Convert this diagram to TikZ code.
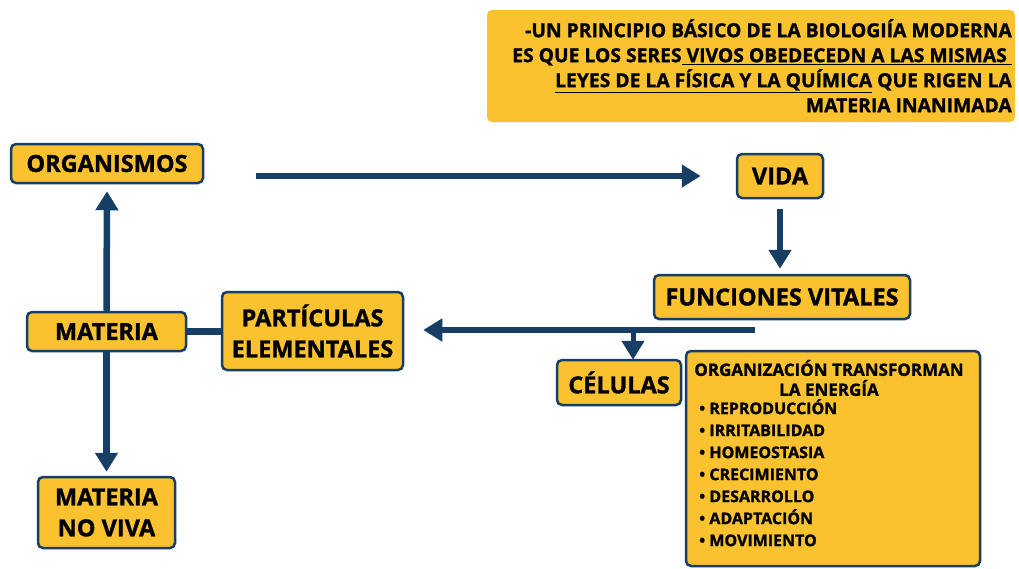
\documentclass[tikz,border=0pt]{standalone}
\usepackage{fontspec}
\setmainfont{Open Sans}[BoldFeatures={FakeBold=1.2}]
\usetikzlibrary{arrows.meta}
\definecolor{fillY}{HTML}{F9C22E}
\definecolor{navy}{HTML}{173F66}
\tikzset{
 box/.style={draw=navy, line width=2.5pt, fill=fillY, rounded corners=5pt, font=\bfseries\fontsize{23.5}{31}\selectfont, align=center, inner sep=0pt},
 conn/.style={draw=navy, line width=6.5pt, -{Triangle[width=22pt,length=19pt]}},
 plainline/.style={draw=navy, line width=6.5pt},
 notetext/.style={font=\bfseries\fontsize{19.3}{25}\selectfont, align=right, inner sep=0pt},
 listtext/.style={font=\bfseries\fontsize{16}{22}\selectfont, align=left, inner sep=0pt},
}
\begin{document}
\begin{tikzpicture}[x=1pt,y=-1pt]
\useasboundingbox (0,0) rectangle (1019,568);
% note
\node[fill=fillY, rounded corners=5pt, minimum width=528pt, minimum height=112pt, inner sep=0pt] (note) at (751,66) {};
\node[notetext, anchor=north east] (notet) at (1012,19) {-UN PRINCIPIO BÁSICO DE LA BIOLOGIÍA MODERNA\\ES QUE LOS SERES\underline{ VIVOS OBEDECEDN A LAS MISMAS }\\\underline{LEYES DE LA FÍSICA Y LA QUÍMICA} QUE RIGEN LA\\MATERIA INANIMADA};
% boxes
\node[box, minimum width=192pt, minimum height=39pt] (org) at (107,163.5) {ORGANISMOS};
\node[box, minimum width=86pt, minimum height=44pt] (vida) at (780,176) {VIDA};
\node[box, minimum width=256pt, minimum height=44pt] (func) at (782,297) {FUNCIONES VITALES};
\node[box, minimum width=159pt, minimum height=39pt] (mat) at (106.5,331.5) {MATERIA};
\node[box, minimum width=181pt, minimum height=78pt] (part) at (312.5,331) {PARTÍCULAS\\ELEMENTALES};
\node[box, minimum width=124pt, minimum height=45pt] (cel) at (619,382.5) {CÉLULAS};
\node[box, minimum width=294pt, minimum height=215pt] (fun2) at (833,458.5) {};
\node[box, minimum width=137pt, minimum height=71pt] (nov) at (106.5,512.5) {MATERIA\\NO VIVA};
% box text
\node[font=\bfseries\fontsize{17}{20}\selectfont, align=center, inner sep=0pt] (title) at (829,378) {ORGANIZACIÓN TRANSFORMAN\\LA ENERGÍA};
\node[listtext, anchor=north west] (items) at (699,399) {\textbullet\ REPRODUCCIÓN\\\textbullet\ IRRITABILIDAD\\\textbullet\ HOMEOSTASIA\\\textbullet\ CRECIMIENTO\\\textbullet\ DESARROLLO\\\textbullet\ ADAPTACIÓN\\\textbullet\ MOVIMIENTO};
% connectors
\coordinate (fj) at (755,330);
\coordinate (fb) at (633,330);
\draw[conn, shorten <=52pt, shorten >=35pt] (org.east |- vida.west) -- (vida.west);
\draw[conn, shorten <=10pt, shorten >=5pt] (vida.south) -- (vida.south |- func.north);
\draw[conn, shorten >=7pt] (mat.north) -- (org.south);
\draw[conn, shorten >=4pt] (mat.south) -- (nov.north);
\draw[plainline] (mat.east) -- (part.west |- mat.east);
\draw[conn, shorten >=19pt] (fj) -- (part.east |- fj);
\draw[conn, line width=5pt, shorten >=-1pt] (fb) -- (fb |- cel.north);
\end{tikzpicture}
\end{document}
